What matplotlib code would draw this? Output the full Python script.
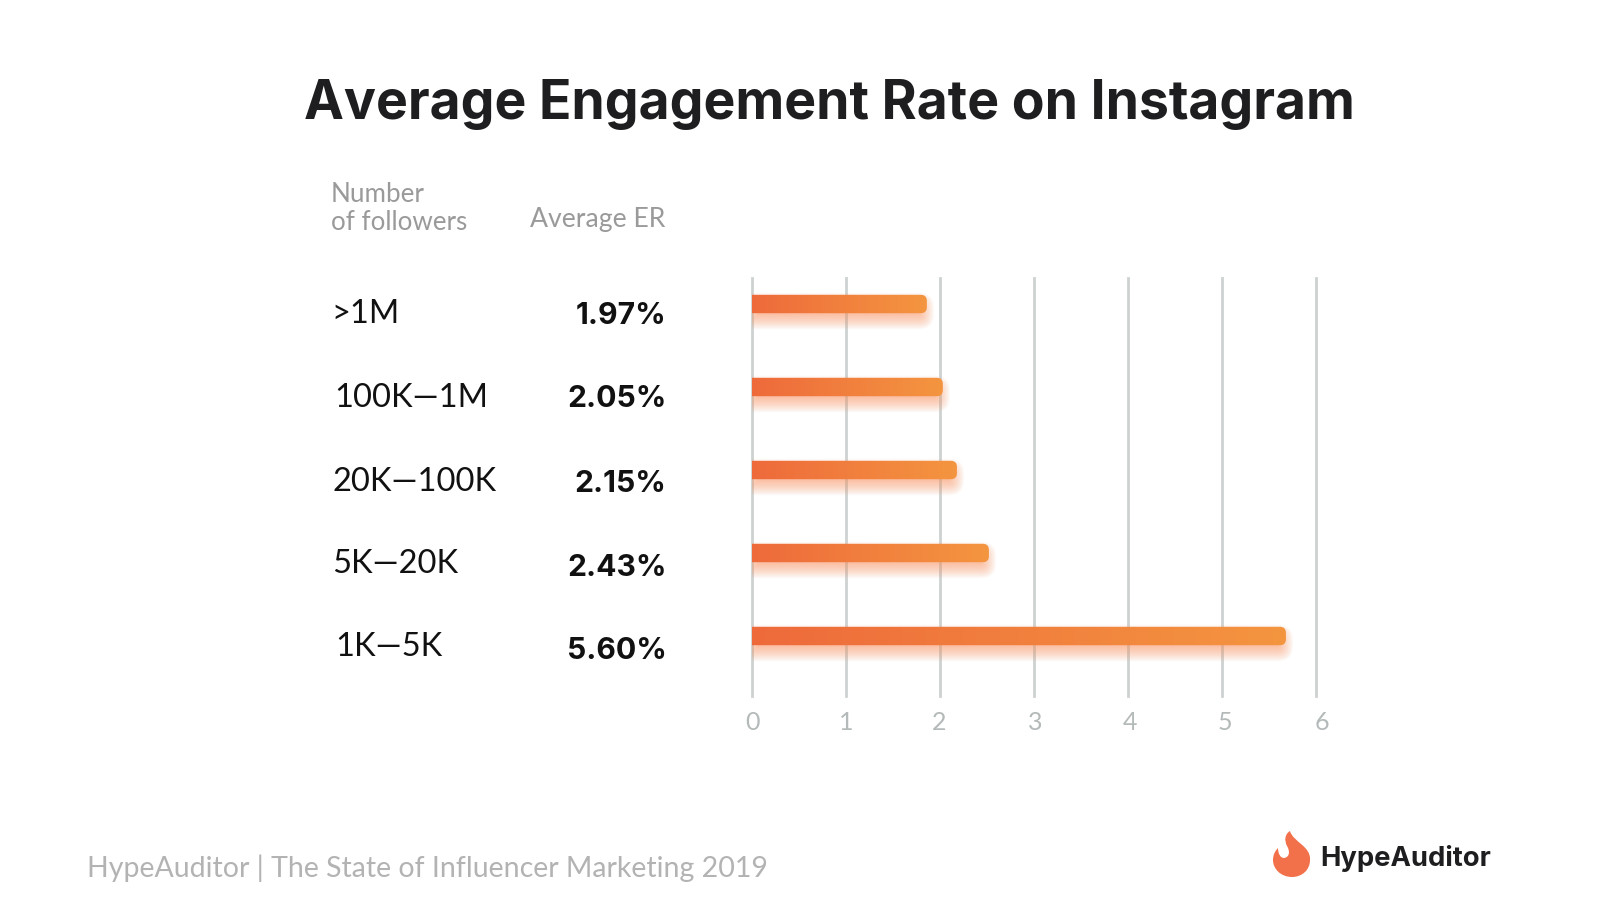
# -*- coding: utf-8 -*-

import numpy as np
import matplotlib.pyplot as plt
from matplotlib.colors import LinearSegmentedColormap
from matplotlib.patches import PathPatch
from matplotlib.path import Path
from matplotlib.transforms import ScaledTranslation

W, H = 1600, 918

followers = ['>1M', '100K—1M', '20K—100K', '5K—20K', '1K—5K']
er_labels = ['1.97%', '2.05%', '2.15%', '2.43%', '5.60%']
bar_lengths = [1.86, 2.03, 2.18, 2.52, 5.68]
x_ticks = [0, 1, 2, 3, 4, 5, 6]

GRID = '#CDD2D1'
TICK = '#B4B9B9'
HEAD = '#9A9A9A'
FOOT = '#B3B3B3'
DARK = '#1E1E20'
FLAME = '#F2704A'
FONT = 'Lato'
BOLD = 'Inter'

fig = plt.figure(figsize=(W / 100, H / 100), dpi=100, facecolor='white')


def box(left, top, right, bottom):
    return [left / W, 1 - bottom / H, (right - left) / W, (bottom - top) / H]


# overlay in pixel coordinates for the free text and logo
bg = fig.add_axes([0, 0, 1, 1])
bg.set_xlim(0, W)
bg.set_ylim(H, 0)
bg.axis('off')

ax = fig.add_axes(box(752, 278, 1316, 696))
ax.set_facecolor('none')
ax.set_xlim(0, 6)
PX_X = 94.0
PX_Y = 83.0
ax.set_ylim((696 - 304) / PX_Y, (278 - 304) / PX_Y)
for s in ax.spines.values():
    s.set_visible(False)
ax.set_yticks([])
ax.set_xticks(x_ticks)
ax.set_xticklabels([str(t) for t in x_ticks], family=FONT, fontsize=18, color=TICK)
ax.tick_params(axis='x', length=0, pad=11)
ax.grid(axis='x', color=GRID, linewidth=2.0, zorder=0)
ax.set_axisbelow(True)
for gl in ax.get_xgridlines():
    gl.set_clip_on(False)

# the labels in the original drift right of their lines
label_shift = [0, 0, -1, 1, 2, 3, 6]
for lab, dx in zip(ax.get_xticklabels(), label_shift):
    lab.set_transform(lab.get_transform() + ScaledTranslation(dx / 100, 0, fig.dpi_scale_trans))


def bar_path(length, y, grow=0.0, drop=0.0, radius=6.0):
    # square on the left, rounded on the right; sizes in pixels
    hh = 9.2 + grow
    x0 = -grow / PX_X
    x1 = length + grow / PX_X
    yt = y + (drop - hh) / PX_Y
    yb = y + (drop + hh) / PX_Y
    rx = max(radius + grow, 1) / PX_X
    ry = max(radius + grow, 1) / PX_Y
    verts = [(x0, yt), (x1 - rx, yt), (x1, yt), (x1, yt + ry), (x1, yb - ry),
             (x1, yb), (x1 - rx, yb), (x0, yb), (x0, yt)]
    codes = [Path.MOVETO, Path.LINETO, Path.CURVE3, Path.CURVE3, Path.LINETO,
             Path.CURVE3, Path.CURVE3, Path.LINETO, Path.CLOSEPOLY]
    return Path(verts, codes)


cmap = LinearSegmentedColormap.from_list('bar', ['#EE6A3B', '#F49540'])
grad = np.linspace(0, 1, 256).reshape(1, -1)

for i, length in enumerate(bar_lengths):
    # soft shadow
    for k in range(9, -8, -1):
        ax.add_patch(PathPatch(bar_path(length - 0.02, i, grow=k, drop=7), fc='#FB9A6A',
                               ec='none', alpha=0.05, zorder=2))
    im = ax.imshow(grad, extent=(0, length, i + 0.2, i - 0.2), cmap=cmap, aspect='auto', zorder=3)
    clip = PathPatch(bar_path(length, i), fc='none', ec='none', transform=ax.transData)
    ax.add_patch(clip)
    im.set_clip_path(clip)

ax.set_xlim(0, 6)
ax.set_ylim((696 - 304) / PX_Y, (278 - 304) / PX_Y)

# title and column headers
bg.text(304, 119, 'Average Engagement Rate on Instagram', family=BOLD, weight='bold',
        fontsize=38.5, color=DARK, va='baseline')
bg.text(331, 202, 'Number', family=FONT, fontsize=18.7, color=HEAD, va='baseline')
bg.text(331, 230.5, 'of followers', family=FONT, fontsize=18.7, color=HEAD, va='baseline')
bg.text(530, 227, 'Average ER', family=FONT, fontsize=19.2, color=HEAD, va='baseline')

cat_x = [331, 334, 333, 332, 335]
cat_y = [323, 407, 491, 573, 656]
val_y = [323.5, 407, 492, 575.5, 659]
for name, label, cx, cy, vy in zip(followers, er_labels, cat_x, cat_y, val_y):
    bg.text(cx, cy, name, family=FONT, fontsize=23.5, color='#111111', va='baseline')
    bg.text(666.5, vy, label, family=BOLD, weight='bold', fontsize=21.7, color='#111111',
            ha='right', va='baseline')

# footer
bg.text(87, 877.5, 'HypeAuditor | The State of Influencer Marketing 2019', family=FONT,
        fontsize=20.5, color=FOOT, va='baseline')
bg.text(1320, 866, 'HypeAuditor', family=BOLD, weight='bold', fontsize=19.7, color=DARK,
        va='baseline')

# flame logo
flame = Path(
    [(1290, 831), (1293, 842), (1311, 846), (1310, 860), (1310, 870), (1302, 877), (1292, 877),
     (1281, 877), (1273, 869), (1273, 860), (1273, 855), (1275, 851), (1278, 848),
     (1278, 853), (1280, 858), (1284, 858), (1290, 857), (1290, 851), (1287, 846),
     (1284, 840), (1285, 834), (1290, 831)],
    [Path.MOVETO, Path.CURVE4, Path.CURVE4, Path.CURVE4, Path.CURVE4, Path.CURVE4, Path.CURVE4,
     Path.CURVE4, Path.CURVE4, Path.CURVE4, Path.CURVE4, Path.CURVE4, Path.CURVE4,
     Path.CURVE4, Path.CURVE4, Path.CURVE4, Path.CURVE4, Path.CURVE4, Path.CURVE4,
     Path.CURVE4, Path.CURVE4, Path.CURVE4])
bg.add_patch(PathPatch(flame, fc=FLAME, ec='none'))

fig.savefig('out.png', dpi=100)
